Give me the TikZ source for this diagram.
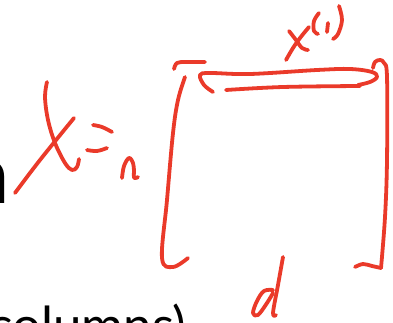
\documentclass[tikz,border=0pt]{standalone}
\usepackage{fontspec}
\newfontfamily\slidefont{Lato}
\definecolor{penred}{RGB}{234,58,42}

\begin{document}
\begin{tikzpicture}[x=1pt, y=-1pt, pen/.style={draw=penred, line width=3.8pt, line cap=round, line join=round}]
\useasboundingbox (0,0) rectangle (393,323);
\clip (0,0) rectangle (393,323);
% slide text behind the ink
\node[anchor=base east, inner sep=0pt, font=\slidefont\fontsize{81}{90}\selectfont\bfseries] (head) at (9,203) {n};
\node[anchor=base west, inner sep=0pt, font=\slidefont\fontsize{51}{60}\selectfont] (cols) at (-12,343) {columns)};
% X = n
\draw[pen] plot[smooth, tension=0.6] coordinates {(15,193) (40,160) (74,118)};
\draw[pen] plot[smooth, tension=0.6] coordinates {(47,82) (45,97) (48,120) (55,143) (65,163) (72,170) (77,167) (79,159)};
\draw[pen] plot[smooth, tension=0.6] coordinates {(93,125) (102,127) (112,132)};
\draw[pen] plot[smooth, tension=0.6] coordinates {(87,150) (97,151) (107,148)};
\draw[pen] plot[smooth, tension=0.6] coordinates {(122,178) (124,166) (129,158) (133,163) (134,171) (134,178) (138,177)};
% left bracket
\draw[pen] plot[smooth, tension=0.6] coordinates {(174,69) (177,63) (186,62) (205,62)};
\draw[pen] plot[smooth, tension=0.6] coordinates {(185,77) (178,100) (173,133) (167,200) (162,258) (173,267) (188,258)};
% right bracket
\draw[pen] plot[smooth, tension=0.6] coordinates {(373,68) (375,62) (380,60) (384,63) (387,77) (387,160) (385,217) (381,268)};
\draw[pen] plot[smooth, tension=0.6] coordinates {(355,267) (363,264) (372,266) (381,268)};
% row x^(i)
\draw[pen] plot[smooth, tension=0.6] coordinates {(213,92) (204,85) (200,75) (210,73) (250,74) (317,70) (350,69) (372,72) (377,77) (370,82) (358,85)};
\draw[pen] plot[smooth, tension=0.6] coordinates {(226,90) (283,87) (360,86)};
\draw[pen] plot[smooth, tension=0.6] coordinates {(286,60) (293,48) (300,38) (309,27)};
\draw[pen] plot[smooth, tension=0.6] coordinates {(289,31) (296,40) (302,48) (308,50)};
\draw[pen] plot[smooth, tension=0.6] coordinates {(319,13) (314,21) (314,31) (318,34)};
\draw[pen] (328,23) -- (327,32);
\draw[pen] plot[smooth, tension=0.6] coordinates {(339,6) (342,20) (338,34) (333,39)};
% d
\draw[pen] plot[smooth, tension=0.6] coordinates {(283,257) (278,285) (273,313) (276,315)};
\draw[pen] plot[smooth, tension=0.6] coordinates {(273,290) (264,291) (257,301) (253,313) (258,315) (267,303) (273,293)};
\end{tikzpicture}
\end{document}
